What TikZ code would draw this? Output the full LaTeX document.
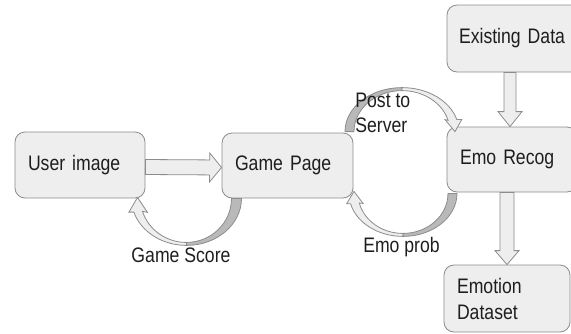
\documentclass[tikz,border=0pt]{standalone}
\usepackage{fontspec}
\usetikzlibrary{calc}
\newfontfamily\diagfont{Liberation Sans}[FakeStretch=0.84]
\definecolor{boxFill}{RGB}{238,238,238}
\definecolor{boxLine}{RGB}{140,140,140}
\definecolor{bandDark}{RGB}{185,185,185}
\definecolor{textDark}{RGB}{30,30,30}
\tikzset{
    every picture/.style={
        line width=0.8pt
    },
    % Style for the rounded boxes
    diag box/.style={
        draw=boxLine, fill=boxFill, rounded corners=10pt,
        text width=104pt, inner xsep=13pt, minimum height=66pt,
        align=left, text=textDark,
        font=\diagfont\fontsize{21}{26}\selectfont
    },
    % Styles for the arrows
    block arrow/.style={draw=boxLine, fill=boxFill, line join=miter},
    band dark/.style={draw=boxLine, fill=bandDark},
    band light/.style={draw=boxLine, fill=boxFill},
    % Style for the arrow labels
    flow label/.style={
        text=textDark, align=left, inner sep=0pt,
        font=\diagfont\fontsize{21}{25}\selectfont
    }
}
% Straight block arrow: from, to, half shaft, half head, head length
\newcommand{\blockarrow}[5]{%
  \coordinate (headbase) at ($(#2)!#5!(#1)$);
  \draw[block arrow] ($(#1)!#3!90:(#2)$) -- ($(headbase)!#3!-90:(#1)$)
    -- ($(headbase)!#4!-90:(#1)$) -- (#2) -- ($(headbase)!#4!90:(#1)$)
    -- ($(headbase)!#3!90:(#1)$) -- ($(#1)!#3!-90:(#2)$) -- cycle;
}

\begin{document}
\begin{tikzpicture}[x=1pt,y=-1pt]

% Set the canvas size
\path[use as bounding box] (0,0) rectangle (571,333);

% Draw the boxes
\node[diag box] (user) at (80,165) {User image};
\node[diag box, text width=105pt, minimum height=65pt] (page) at (287.5,165.5) {Game Page};
\node[diag box, text width=112pt, inner xsep=12pt, minimum height=67pt] (data) at (515,38.5) {Existing Data};
\node[diag box, minimum height=65pt] (recog) at (512,159.5) {Emo Recog};
\node[diag box, text width=100pt, minimum height=67pt] (dataset) at (507,298.5) {Emotion\\Dataset};

% Draw the straight arrows
\coordinate (ua) at ([yshift=-2pt]user.east);
\coordinate (pa) at ([yshift=-2pt]page.west);
\blockarrow{ua}{pa}{7.5pt}{14.5pt}{12pt}
\coordinate (da) at ([xshift=-2pt]recog.north |- data.south);
\coordinate (ra) at ([xshift=-2pt]recog.north);
\blockarrow{da}{ra}{6pt}{12pt}{15pt}
\coordinate (rb) at (recog.south -| dataset.north);
\blockarrow{rb}{dataset.north}{7pt}{12pt}{14pt}

% Draw the curved arrows
\coordinate (gs) at ($(user.south east)!0.5!(page.south west)+(3,0)$);
\draw[band dark] ($(gs)+(55,0)$) arc[start angle=0,end angle=90,x radius=55,y radius=47]
    -- ++(0,-3) arc[start angle=90,end angle=0,x radius=45,y radius=44] -- cycle;
\draw[band light] ($(gs)+(0,47)$) arc[start angle=90,end angle=163,x radius=55,y radius=47]
    -- ++(-5,0) -- ($(gs)+(-49,-1)$) -- ($(gs)+(-39,14)$) -- ($(gs)+(-44,12.9)$)
    arc[start angle=163,end angle=90,x radius=46,y radius=44] -- cycle;

\coordinate (ep) at ($(page.south east)!0.5!(recog.south west)+(3,-2)$);
\draw[band dark] ($(ep)+(54,0)$) arc[start angle=0,end angle=90,x radius=54,y radius=43]
    -- ++(0,-3) arc[start angle=90,end angle=0,x radius=45,y radius=40] -- cycle;
\draw[band light] ($(ep)+(0,43)$) arc[start angle=90,end angle=166,x radius=54,y radius=43]
    -- ++(-4,0) -- ($(ep)+(-49,-2)$) -- ($(ep)+(-40,10)$) -- ($(ep)+(-43.7,9.7)$)
    arc[start angle=166,end angle=90,x radius=45,y radius=40] -- cycle;

\coordinate (ps) at ($(page.north east)!0.5!(recog.north west)+(2,2)$);
\draw[band dark] ($(ps)+(-57,0)$) arc[start angle=180,end angle=270,x radius=57,y radius=44]
    -- ++(0,3) arc[start angle=270,end angle=180,x radius=48,y radius=41] -- cycle;
\draw[band light] ($(ps)+(0,-44)$) arc[start angle=270,end angle=344,x radius=57,y radius=44]
    -- ++(5,0) -- ($(ps)+(53,0)$) -- ($(ps)+(43,-12)$) -- ($(ps)+(46.1,-11.3)$)
    arc[start angle=344,end angle=270,x radius=48,y radius=41] -- cycle;

% Labels of the curved arrows
\node[flow label, anchor=base] (gslabel) at (181,262) {Game Score};
\node[flow label, anchor=base] (eplabel) at (401.5,252) {Emo prob};
\node[flow label, anchor=base west] (pslabel) at (355,132) {Post to\\Server};

\end{tikzpicture}
\end{document}
